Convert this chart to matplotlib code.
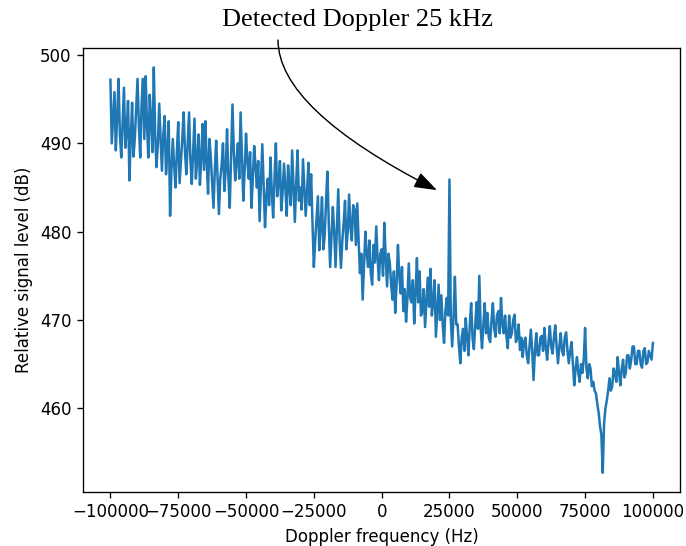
import numpy as np
import matplotlib
matplotlib.use("Agg")
import matplotlib.pyplot as plt

# Doppler spectrum at 500 Hz steps
freq_start_hz = -100000
freq_step_hz = 500

level_db = [
    # -100 kHz .. -90.5 kHz
    497.2, 490.0, 492.9, 495.8, 489.2, 493.0, 497.3, 491.0, 488.4, 492.5,
    496.3, 489.5, 491.5, 494.8, 485.8, 490.5, 494.6, 488.5, 490.5, 494.0,
    # -90 kHz
    497.3, 492.0, 488.4, 494.5, 497.3, 490.5, 497.6, 492.0, 488.4, 495.5,
    492.5, 489.0, 498.6, 491.0, 487.3, 490.0, 494.5, 490.5, 486.9, 491.0,
    # -80 kHz
    493.1, 486.5, 489.0, 492.5, 481.8, 487.0, 490.5, 487.5, 485.0, 489.0,
    492.4, 485.5, 488.0, 490.5, 493.5, 489.0, 486.5, 490.0, 493.5, 488.0,
    # -70 kHz
    485.4, 489.0, 492.8, 486.0, 488.0, 491.0, 485.3, 488.5, 492.2, 487.0,
    492.5, 488.0, 484.3, 490.5, 488.5, 485.5, 482.7, 487.0, 490.3, 486.0,
    # -60 kHz
    482.0, 486.0, 487.5, 490.0, 484.6, 487.0, 491.6, 486.0, 482.7, 488.5,
    494.4, 489.0, 485.8, 488.0, 490.0, 486.0, 493.5, 488.5, 483.5, 487.0,
    # -50 kHz
    491.1, 488.0, 486.0, 489.0, 482.7, 486.0, 489.7, 487.5, 485.0, 488.0,
    481.2, 485.5, 489.9, 485.0, 480.5, 484.0, 486.0, 483.0, 488.4, 484.5,
    # -40 kHz
    481.6, 486.0, 490.0, 484.0, 485.5, 488.0, 482.4, 484.5, 487.7, 485.0,
    481.8, 487.5, 485.0, 483.0, 489.2, 485.0, 481.1, 485.5, 489.2, 483.5,
    # -30 kHz
    485.0, 482.5, 488.2, 485.0, 481.8, 484.5, 487.8, 483.0, 486.5, 481.0,
    476.0, 479.0, 481.5, 484.0, 477.9, 480.5, 483.9, 478.0, 479.5, 483.5,
    # -20 kHz
    486.8, 481.0, 476.0, 479.5, 482.8, 480.0, 476.0, 480.5, 484.8, 479.0,
    475.9, 479.0, 481.0, 483.5, 478.0, 480.0, 484.2, 480.5, 479.0, 483.0,
    # -10 kHz
    482.5, 478.5, 483.2, 479.0, 475.3, 477.5, 472.3, 476.0, 480.0, 477.5,
    476.0, 479.0, 475.3, 474.0, 478.5, 476.5, 480.6, 477.0, 474.5, 477.5,
    # 0 kHz
    478.0, 475.0, 481.0, 477.0, 473.8, 477.5, 476.5, 474.0, 472.3, 475.5,
    470.8, 474.0, 478.5, 475.0, 473.0, 476.0, 471.0, 473.5, 469.8, 472.5,
    # 10 kHz
    476.4, 472.5, 472.0, 474.5, 469.6, 473.0, 477.0, 472.0, 475.5, 470.5,
    471.0, 473.5, 469.2, 472.0, 474.8, 471.5, 475.8, 470.5, 472.0, 474.5,
    # 20 kHz
    468.1, 471.0, 474.0, 470.0, 472.8, 469.5, 467.4, 471.0, 472.5, 470.5,
    485.9, 470.0, 467.0, 470.5, 474.9, 469.5, 469.5, 467.0, 465.1, 468.0,
    # 30 kHz
    469.0, 466.5, 470.2, 468.0, 466.0, 469.5, 471.9, 468.0, 466.7, 469.5,
    472.0, 469.0, 475.0, 469.0, 466.8, 469.5, 471.9, 468.5, 470.8, 468.0,
    # 40 kHz
    467.5, 470.0, 471.9, 469.0, 468.1, 470.5, 471.0, 468.5, 472.5, 469.5,
    468.5, 470.5, 468.1, 466.8, 470.5, 468.0, 468.5, 470.0, 470.6, 467.5,
    # 50 kHz
    468.0, 469.5, 466.6, 468.0, 465.8, 467.5, 468.0, 466.0, 465.1, 467.0,
    468.9, 466.5, 463.2, 466.5, 468.5, 466.0, 466.0, 468.0, 468.2, 466.5,
    # 60 kHz
    469.1, 467.0, 465.5, 467.5, 469.3, 467.0, 466.2, 468.0, 469.4, 467.0,
    465.1, 467.0, 468.5, 466.5, 466.0, 468.0, 468.6, 466.5, 465.1, 466.5,
    # 70 kHz
    467.5, 465.0, 462.6, 464.5, 465.8, 464.0, 463.0, 465.0, 464.0, 465.5,
    469.1, 464.5, 463.4, 465.0, 464.5, 462.5, 463.0, 462.0, 461.7, 460.5,
    # 80 kHz
    459.5, 458.0, 457.0, 452.7, 458.3, 460.0, 460.9, 462.0, 463.4, 462.0,
    462.5, 464.5, 464.0, 463.0, 465.8, 464.0, 462.6, 464.5, 465.5, 463.5,
    # 90 kHz
    464.0, 466.0, 466.0, 464.5, 465.5, 467.0, 467.0, 465.0, 465.0, 466.5,
    466.5, 465.0, 464.6, 466.5, 466.8, 465.0, 465.2, 466.5, 466.0, 465.5,
    # 100 kHz
    467.4,
]

freqs = freq_start_hz + freq_step_hz * np.arange(len(level_db))

# detected peak (arrow tip)
peak_freq = 20400
peak_level = 484.7

DPI = 120
fig = plt.figure(figsize=(686 / DPI, 546 / DPI), dpi=DPI)
ax = fig.add_axes([0.1214, 0.0995, 0.8699, 0.8117])

ax.plot(freqs, level_db, color='tab:blue', lw=1.5)
ax.set_xlim(-110000, 110000)
ax.set_ylim(450.56, 500.74)
ax.set_xticks([-100000, -75000, -50000, -25000, 0, 25000, 50000, 75000, 100000])
ax.set_yticks([460, 470, 480, 490, 500])
ax.set_xlabel('Doppler frequency (Hz)')
ax.set_ylabel('Relative signal level (dB)')

# label and curved arrow on top
fig.text(358 / 686, 1 - 20 / 546, 'Detected Doppler 25 kHz',
         family=['Liberation Serif', 'DejaVu Serif'], fontsize=15.8,
         ha='center', va='center')
ax.annotate('', xy=(peak_freq, peak_level), xycoords='data',
            xytext=(278 / 686, 1 - 40 / 546), textcoords='figure fraction',
            annotation_clip=False,
            arrowprops=dict(arrowstyle='-|>,head_length=1.0,head_width=0.35',
                            connectionstyle='angle3,angleA=90,angleB=-27',
                            color='black', lw=0.85, mutation_scale=11.7,
                            shrinkA=0, shrinkB=0))

fig.savefig('out.png', dpi=DPI)
